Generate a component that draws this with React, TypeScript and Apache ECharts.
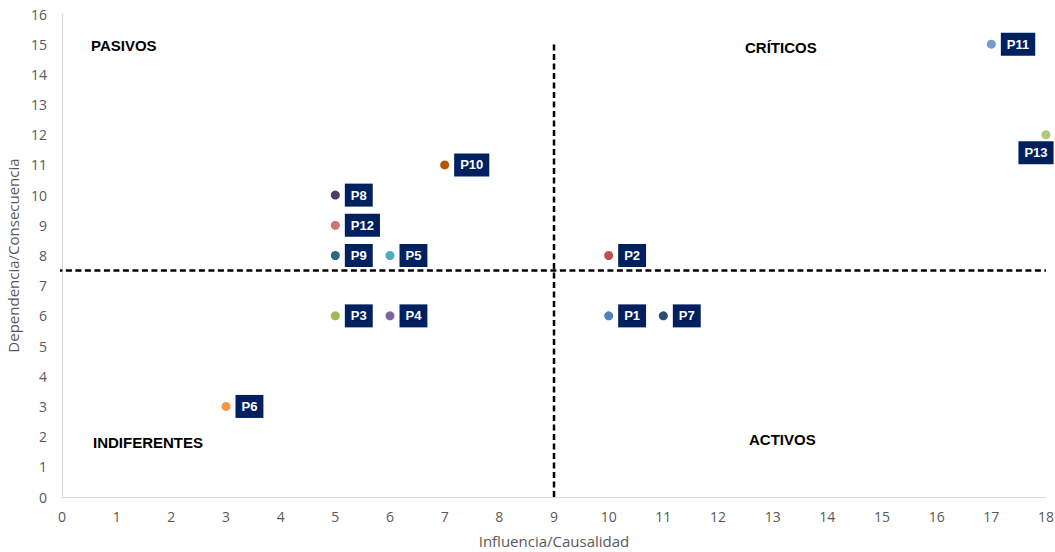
import React, { useEffect, useRef } from "react";
import * as echarts from "echarts";

// Factor names, coordinates (influence, dependence) and marker colours
const names = ["P1", "P2", "P3", "P4", "P5", "P6", "P7", "P8", "P9", "P10", "P11", "P12", "P13"];
const influence = [10, 10, 5, 6, 6, 3, 11, 5, 5, 7, 17, 5, 18];
const dependence = [6, 8, 6, 6, 8, 3, 6, 10, 8, 11, 15, 9, 12];
const colors = [
  "#4F81BD", "#C0504D", "#9BBB59", "#8064A2", "#4BACC6", "#F79646",
  "#2C4D75", "#4D3B62", "#276A7C", "#B65708", "#729ACA", "#CD7371", "#AFC97A",
];

// Quadrant divider values
const xSplit = 9;
const ySplit = 7.5;
const xMax = 18;
const yMax = 16;
const verticalTop = 15;

const quadrants = [
  { text: "PASIVOS", left: 91, top: 38 },
  { text: "CRÍTICOS", left: 745, top: 40 },
  { text: "INDIFERENTES", left: 93, top: 435 },
  { text: "ACTIVOS", left: 749, top: 432 },
];

export default function App() {
  const ref = useRef<HTMLDivElement>(null);

  useEffect(() => {
    if (!ref.current) return;
    const chart = echarts.init(ref.current, null, { renderer: "svg" });
    const font = "'Liberation Sans', Arial, sans-serif";
    const axisFont = "'Open Sans', sans-serif";

    const points = names.map((n, i) => {
      const item: any = {
        name: n,
        value: [influence[i], dependence[i]],
        itemStyle: { color: colors[i], opacity: 1 },
      };
      if (n === "P13") {
        item.label = { position: "bottom", distance: 2, offset: [-10, 0] };
      }
      return item;
    });

    chart.setOption({
      animation: false,
      grid: {
        left: 62,
        right: 9,
        top: 14,
        bottom: 55,
        containLabel: false,
        outerBoundsMode: "none",
      },
      textStyle: { fontFamily: font },
      xAxis: {
        type: "value",
        min: 0,
        max: xMax,
        interval: 1,
        name: "Influencia/Causalidad",
        nameLocation: "middle",
        nameGap: 36,
        nameTextStyle: { color: "#595959", fontSize: 15, fontFamily: axisFont },
        axisLine: { show: true, lineStyle: { color: "#d9d9d9", width: 1 } },
        axisTick: { show: false },
        splitLine: { show: false },
        axisLabel: { color: "#595959", fontSize: 14, margin: 12, fontFamily: axisFont },
      },
      yAxis: {
        type: "value",
        min: 0,
        max: yMax,
        interval: 1,
        name: "Dependencia/Consecuencia",
        nameLocation: "middle",
        nameGap: 38,
        nameTextStyle: { color: "#595959", fontSize: 15, fontFamily: axisFont },
        axisLine: { show: true, lineStyle: { color: "#d9d9d9", width: 1 } },
        axisTick: { show: false },
        splitLine: { show: false },
        axisLabel: { color: "#595959", fontSize: 14, margin: 15, fontFamily: axisFont },
      },
      series: [
        {
          type: "line",
          data: [[-0.45, ySplit], [xMax, ySplit]],
          symbol: "none",
          clip: false,
          lineStyle: { color: "#000", width: 2.5, type: [6, 3.5] },
          silent: true,
          z: 1,
        },
        {
          type: "line",
          data: [[xSplit, 0], [xSplit, verticalTop]],
          symbol: "none",
          clip: false,
          lineStyle: { color: "#000", width: 2.5, type: [6, 3.5] },
          silent: true,
          z: 1,
        },
        {
          type: "scatter",
          symbol: "circle",
          symbolSize: 9,
          clip: false,
          z: 3,
          itemStyle: { opacity: 1 },
          data: points,
          label: {
            show: true,
            position: "right",
            distance: 5,
            formatter: "{b}",
            color: "#fff",
            fontWeight: "bold",
            fontSize: 13,
            lineHeight: 15,
            fontFamily: font,
            backgroundColor: "#002060",
            padding: [4, 6, 4, 6],
          },
        },
      ],
      graphic: quadrants.map((q) => ({
        type: "text",
        left: q.left,
        top: q.top,
        style: {
          text: q.text,
          fill: "#000",
          font: `bold 15px ${font}`,
        },
      })),
    });

    return () => chart.dispose();
  }, []);

  return (
    <div
      ref={ref}
      style={{ position: "fixed", left: 0, top: 0, width: 1055, height: 552, background: "#fff" }}
    />
  );
}
